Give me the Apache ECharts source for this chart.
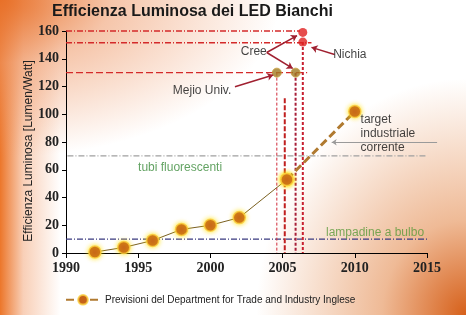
<!DOCTYPE html>
<html>
<head>
<meta charset="utf-8">
<script src="https://cdn.jsdelivr.net/npm/echarts@6/dist/echarts.min.js"></script>
<style>
html,body{margin:0;padding:0;}
#chart{width:466px;height:315px;
background:
 radial-gradient(ellipse 60% 50% at 0% 0%, rgba(232,112,40,0.95) 0%, rgba(238,150,100,0.55) 40%, rgba(255,255,255,0) 100%),
 linear-gradient(to right, rgba(236,118,42,1) 0%, rgba(242,160,112,0.5) 5%, rgba(255,255,255,0) 13%),
 radial-gradient(ellipse 45% 75% at 100% 100%, rgba(214,96,26,1) 0%, rgba(228,140,80,0.6) 40%, rgba(255,255,255,0) 100%),
 #ffffff;}
</style>
</head>
<body>
<div id="chart"></div>
<script>
// ---- data ----
const histYears = [1992, 1994, 1996, 1998, 2000, 2002, 2005.3];
const histValues = [0.7, 4, 9, 17, 20, 25.5, 53];
const forecastYears = [2005.3, 2010];
const forecastValues = [53, 102];
const redYears = [2006.4, 2006.4];
const redValues = [159, 152];
const oliveYears = [2004.6, 2005.9];
const oliveValues = [130, 130];
const fluorescentLevel = 70;
const bulbLevel = 10;
const legendName = 'Previsioni del Department for Trade and Industry Inglese';
const yTicks = [0, 20, 40, 60, 80, 100, 120, 140, 160];
const xTicks = [1990, 1995, 2000, 2005, 2010, 2015];

const zip = (a, b) => a.map((v, i) => [v, b[i]]);

const chart = echarts.init(document.getElementById('chart'), null, {renderer: 'canvas'});

const hLine = (y, x0, x1, color, width, type) => ({
  type: 'line', data: [[x0, y], [x1, y]], symbol: 'none', silent: true,
  lineStyle: {color: color, width: width, type: type}, z: 1, clip: false
});
const vLine = (x, y0, y1, color, width, type) => ({
  type: 'line', data: [[x, y0], [x, y1]], symbol: 'none', silent: true,
  lineStyle: {color: color, width: width, type: type}, z: 1
});
const markerStyle = {
  color: '#c5621a', borderColor: 'rgba(250,205,60,0.8)', borderWidth: 1.5,
  shadowBlur: 5, shadowColor: 'rgba(255,225,0,0.9)'
};

chart.setOption({
  backgroundColor: 'transparent',
  animation: false,
  title: {
    text: 'Efficienza Luminosa dei LED Bianchi', left: 52, top: 4, padding: 0,
    textStyle: {fontFamily: 'Liberation Sans', fontWeight: 'bold', fontSize: 16, color: '#1a1a1a'}
  },
  legend: {
    data: [legendName], left: 60, top: 289, itemWidth: 34, itemHeight: 12,
    textStyle: {fontFamily: 'Liberation Sans', fontSize: 10, color: '#222'}
  },
  grid: {left: 66, right: 39, top: 31, bottom: 62},
  xAxis: {
    type: 'value', min: xTicks[0], max: xTicks[xTicks.length - 1], interval: 5,
    splitLine: {show: false},
    axisLine: {lineStyle: {color: '#000', width: 1}},
    axisTick: {show: true, length: 5, lineStyle: {color: '#000'}},
    axisLabel: {margin: 8, fontFamily: 'Liberation Serif', fontWeight: 'bold', fontSize: 14, color: '#222',
      formatter: v => String(v)}
  },
  yAxis: {
    type: 'value', min: yTicks[0], max: yTicks[yTicks.length - 1], interval: 20,
    splitLine: {show: false},
    axisLine: {show: true, lineStyle: {color: '#000', width: 1}},
    axisTick: {show: true, length: 4, lineStyle: {color: '#000'}},
    axisLabel: {margin: 7, fontFamily: 'Liberation Serif', fontWeight: 'bold', fontSize: 14, color: '#222',
      formatter: v => String(v)}
  },
  graphic: [{
    type: 'text', x: 29, y: 151, rotation: Math.PI / 2,
    style: {text: 'Efficienza Luminosa [Lumen/Watt]', fill: '#222', font: '12px "Liberation Sans"',
      align: 'center', verticalAlign: 'middle'}
  }],
  series: [
    // reference levels
    hLine(160, 1990, 2006.2, '#d42a2a', 1.5, [6, 2, 1, 2]),
    hLine(151.5, 1990, 2007.0, '#d42a2a', 1.5, [6, 2, 1, 2]),
    hLine(130, 1990, 2006.7, '#d42a2a', 1.2, [7, 3]),
    hLine(fluorescentLevel, 1990.1, 2015, '#a0a0a0', 1.3, [6, 2, 1, 2]),
    hLine(bulbLevel, 1990, 2015, '#3a3a80', 1.1, [6, 2, 1, 2]),
    vLine(oliveYears[0], oliveValues[0], 0, '#d02a3a', 1, [3, 2]),
    vLine(2005.15, 111.5, 0, '#c02020', 2, [5, 2]),
    vLine(oliveYears[1], oliveValues[1], 0, '#a8203a', 2, [3, 2]),
    vLine(redYears[1], redValues[1], 0, '#c82030', 2, [3, 2]),
    // historical data
    {
      type: 'line', name: 'storico', data: zip(histYears, histValues),
      symbol: 'circle', symbolSize: 12, z: 3,
      lineStyle: {color: '#7a6020', width: 1}, itemStyle: markerStyle
    },
    {
      type: 'line', name: legendName, data: zip(forecastYears, forecastValues),
      symbol: 'circle', symbolSize: 12, z: 4,
      lineStyle: {color: '#b07a30', width: 3, type: [8, 4]}, itemStyle: markerStyle
    },
    // LED records
    {
      type: 'scatter', data: zip(redYears, redValues), symbolSize: 9, z: 5,
      itemStyle: {color: '#e02020'}
    },
    {
      type: 'scatter', data: zip(oliveYears, oliveValues), symbolSize: 9, z: 5,
      itemStyle: {color: '#a07a20', borderColor: '#c8a040', borderWidth: 1}
    },
    // arrows
    {
      type: 'lines', coordinateSystem: 'cartesian2d', z: 6, silent: true,
      symbol: ['none', 'arrow'], symbolSize: 6,
      lineStyle: {color: '#a02030', width: 1.5, opacity: 1},
      data: [
        {coords: [[2003.9, 144.5], [2006.0, 156.7]]},
        {coords: [[2003.9, 144.5], [2005.7, 133]]},
        {coords: [[2008.6, 143], [2007.0, 148.2]]},
        {coords: [[2001.7, 119.8], [2004.35, 128.3]]}
      ]
    },
    {
      type: 'lines', coordinateSystem: 'cartesian2d', z: 6, silent: true, clip: false,
      symbol: ['none', 'arrow'], symbolSize: 5,
      lineStyle: {color: '#9a9a9a', width: 1, opacity: 1},
      data: [{coords: [[2015.7, 79.8], [2008.4, 79.8]]}]
    },
    // text annotations
    {
      type: 'scatter', symbolSize: 0, z: 7, silent: true, clip: false,
      label: {show: true, position: 'right', distance: 0, formatter: '{b}',
        fontFamily: 'Liberation Sans', fontSize: 12, color: '#111', lineHeight: 14},
      data: [
        {name: 'Cree', value: [2002.1, 145]},
        {name: 'Nichia', value: [2008.5, 143]},
        {name: 'Mejio Univ.', value: [1997.4, 117.3]},
        {name: 'target\nindustriale\ncorrente', value: [2010.4, 85.8]}
      ]
    },
    {
      type: 'scatter', symbolSize: 0, z: 7, silent: true,
      label: {show: true, position: 'inside', formatter: '{b}',
        fontFamily: 'Liberation Sans', fontSize: 12, color: '#3c8c3c'},
      data: [
        {name: 'tubi fluorescenti', value: [1997.9, 61.3]},
        {name: 'lampadine a bulbo', value: [2011.4, 14.8], label: {color: '#5a9a3a'}}
      ]
    }
  ]
});
</script>
</body>
</html>
